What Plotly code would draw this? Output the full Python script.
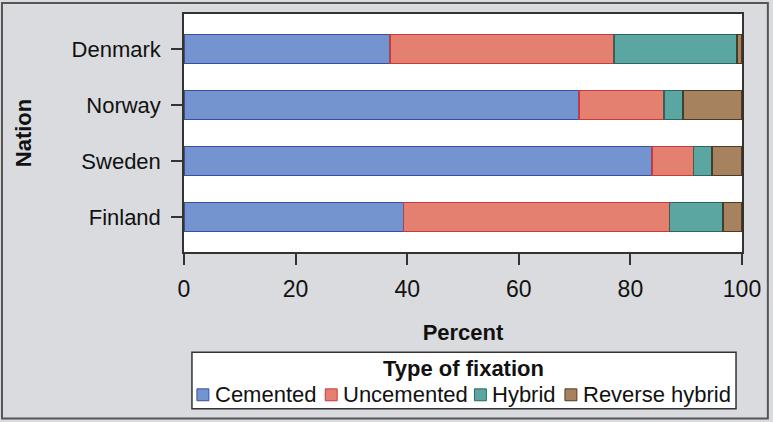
import plotly.graph_objects as go

nations = ["Denmark", "Norway", "Sweden", "Finland"]
fixation_types = ["Cemented", "Uncemented", "Hybrid", "Reverse hybrid"]

cemented = [36.9, 70.8, 83.9, 39.3]
uncemented = [40.2, 15.2, 7.4, 47.7]
hybrid = [22.0, 3.4, 3.3, 9.6]
reverse_hybrid = [0.9, 10.6, 5.4, 3.4]

fill_colors = ["#7394cf", "#e3806f", "#5ba6a0", "#a7825e"]
line_colors = ["#3b4da0", "#c83a3a", "#2a6660", "#4d3a25"]

series = [cemented, uncemented, hybrid, reverse_hybrid]

W, H = 773, 422
ml, mr, mt, mb = 184, 28, 12, 170
pw, ph = W - ml - mr, H - mt - mb
FONT = "Liberation Sans, Arial, sans-serif"


def px(x):
    return (x - ml) / pw


def py(y):
    return 1 - (y - mt) / ph


fig = go.Figure()
for name, vals, fc, lc in zip(fixation_types, series, fill_colors, line_colors):
    fig.add_trace(go.Bar(
        y=nations,
        x=vals,
        name=name,
        orientation="h",
        marker=dict(color=fc, line=dict(color=lc, width=1.5)),
        width=0.52,
        showlegend=False,
    ))

fig.update_layout(
    barmode="stack",
    width=W,
    height=H,
    margin=dict(l=ml, r=mr, t=mt, b=mb),
    paper_bgcolor="#dadbdf",
    plot_bgcolor="white",
    font=dict(family=FONT, size=22, color="#111"),
)

fig.update_xaxes(
    range=[0, 100],
    tickvals=[0, 20, 40, 60, 80, 100],
    ticks="outside", ticklen=11, tickcolor="#333", tickwidth=1.5,
    ticklabelstandoff=5,
    tickfont=dict(size=23),
    showline=True, linecolor="#333", linewidth=1.5, mirror=True,
    showgrid=False, zeroline=False,
    title=dict(text="<b>Percent</b>", font=dict(size=22), standoff=23),
)
fig.update_yaxes(
    categoryorder="array", categoryarray=nations[::-1],
    range=[-0.625, 3.625],
    ticks="outside", ticklen=11, tickcolor="#333", tickwidth=1.5,
    ticklabelstandoff=6,
    showline=True, linecolor="#333", linewidth=1.5, mirror=True,
    showgrid=False, zeroline=False,
    title=dict(text="<b>Nation</b>", font=dict(size=22), standoff=34),
)

# outer frame around the whole figure
fig.add_shape(
    type="rect", xref="paper", yref="paper",
    x0=px(1), x1=px(771), y0=py(420), y1=py(1),
    line=dict(color="#555", width=2), fillcolor="rgba(0,0,0,0)",
    layer="below",
)

# legend box drawn by hand to match the compact SAS-style legend
fig.add_shape(
    type="rect", xref="paper", yref="paper",
    x0=px(192), x1=px(739), y0=py(410), y1=py(353),
    line=dict(color="#333", width=1.5), fillcolor="white",
)
fig.add_annotation(
    x=px(465), y=py(369), xref="paper", yref="paper",
    text="<b>Type of fixation</b>", showarrow=False,
    font=dict(size=22), xanchor="center", yanchor="middle",
)
legend_x = [197, 326, 476, 567]
for lx, name, fc, lc in zip(legend_x, fixation_types, fill_colors, line_colors):
    fig.add_shape(
        type="rect", xref="paper", yref="paper",
        x0=px(lx), x1=px(lx + 12), y0=py(402), y1=py(390),
        line=dict(color=lc, width=1), fillcolor=fc,
    )
    fig.add_annotation(
        x=px(lx + 16), y=py(396), xref="paper", yref="paper",
        text=name, showarrow=False, font=dict(size=22),
        xanchor="left", yanchor="middle",
    )

fig.write_html(
    "out.html",
    config={"displayModeBar": False},
    post_script="document.body.style.margin='0';",
)
